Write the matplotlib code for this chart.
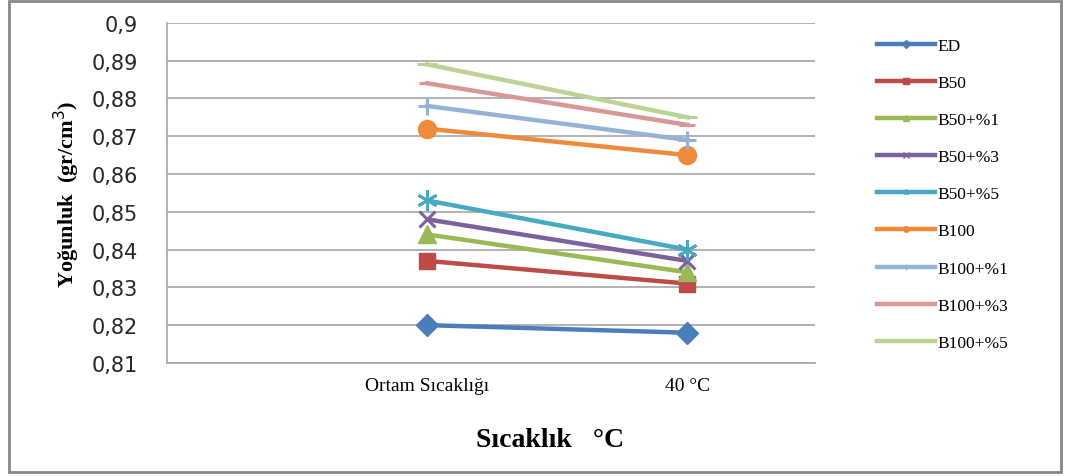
import matplotlib
matplotlib.use("Agg")
import matplotlib.pyplot as plt
from matplotlib.lines import Line2D
from matplotlib.patches import Rectangle

# yoğunluk ölçümleri (gr/cm3)
kategoriler = ["Ortam Sıcaklığı", "40 °C"]
seriler = ["ED", "B50", "B50+%1", "B50+%3", "B50+%5",
           "B100", "B100+%1", "B100+%3", "B100+%5"]
ED = [0.820, 0.818]
B50 = [0.837, 0.831]
B50_1 = [0.844, 0.834]
B50_3 = [0.848, 0.837]
B50_5 = [0.853, 0.840]
B100 = [0.872, 0.865]
B100_1 = [0.878, 0.869]
B100_3 = [0.884, 0.873]
B100_5 = [0.889, 0.875]
degerler = [ED, B50, B50_1, B50_3, B50_5, B100, B100_1, B100_3, B100_5]

renkler = ["#4A7EBB", "#BE4B48", "#98B954", "#7D60A0", "#46AAC5",
           "#EE8A3C", "#95B3D7", "#D99795", "#BDD394"]
isaretler = ["D", "s", "^", "x", "*", "o", "+", "_", "_"]
boyutlar = [11, 12, 13, 12, 15, 13, 13, 12, 14]

fig = plt.figure(figsize=(10.65, 4.77), dpi=100)
fig.patches.append(Rectangle((0.008, 0.008), 0.988, 0.987, transform=fig.transFigure,
                             fill=False, edgecolor="#888888", linewidth=2))

ax = fig.add_axes([0.157, 0.237, 0.608, 0.713])
x = list(range(len(kategoriler)))
for ad, y, c, m, s in zip(seriler, degerler, renkler, isaretler, boyutlar):
    mew = 2.2 if m in ("x", "+", "_") else 1
    if m == "*":
        m = (6, 2, 0)
        mew = 2
    ax.plot(x, y, color=c, linewidth=3.2, marker=m, markersize=s,
            markeredgewidth=mew, markeredgecolor=c, label=ad)

ax.set_xlim(-1.0, 1.49)
ax.set_ylim(0.81, 0.90)
ax.set_yticks([0.81 + 0.01 * i for i in range(10)])
ax.set_yticklabels([f"{0.81 + 0.01 * i:.2f}".replace(".", ",").rstrip("0")
                    for i in range(10)],
                   fontfamily="DejaVu Sans", fontsize=15, color="#262626")
ax.set_xticks(x)
ax.set_xticklabels(kategoriler, fontfamily="Liberation Serif", fontsize=14)
ax.tick_params(axis="y", length=0, pad=21)
ax.tick_params(axis="x", length=0, pad=10)
ax.grid(axis="y", color="#A6A6A6", linewidth=1.2)
ax.set_axisbelow(True)
for k in ("top", "right"):
    ax.spines[k].set_visible(False)
for k in ("left", "bottom"):
    ax.spines[k].set_color("#A6A6A6")
    ax.spines[k].set_linewidth(1.2)

ax.set_ylabel("Yoğunluk  (gr/cm$^3$)", fontfamily="Liberation Serif",
              fontsize=16, fontweight="bold")
ax.yaxis.set_label_coords(-0.131, 0.5)
ax.set_xlabel("Sıcaklık   °C", fontfamily="Liberation Serif",
              fontsize=20, fontweight="bold")
ax.xaxis.set_label_coords(0.591, -0.187)

# gösterge: küçük işaretli çizgiler
tutamaklar = [Line2D([], [], color=c, linewidth=3.2, marker=m if m != "_" else None,
                     markersize=4)
              for c, m in zip(renkler, isaretler)]
fig.legend(tutamaklar, seriler, loc="upper left", bbox_to_anchor=(0.809, 0.952),
           frameon=False, prop={"family": "Liberation Serif", "size": 12.5},
           handlelength=3.3, handletextpad=0.15, labelspacing=1.21)

fig.savefig("out.png", dpi=100)
